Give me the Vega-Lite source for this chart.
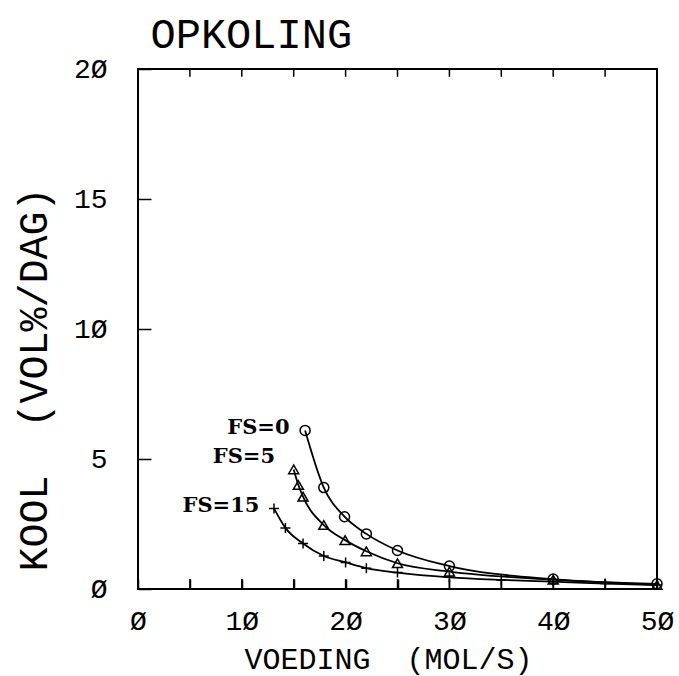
{
  "$schema": "https://vega.github.io/schema/vega-lite/v6.json",
  "width": 519,
  "height": 520,
  "autosize": "none",
  "padding": {"left": 138, "top": 69, "right": 22, "bottom": 87},
  "background": "white",
  "config": {
    "view": {"stroke": "black", "strokeWidth": 2},
    "axis": {
      "grid": false,
      "domain": false,
      "tickColor": "black",
      "tickWidth": 1.5,
      "labelColor": "black",
      "titleColor": "black",
      "labelFont": "Liberation Mono",
      "titleFont": "Liberation Mono",
      "titleFontWeight": "normal",
      "labelFlush": false,
      "labelOverlap": false
    }
  },
  "datasets": {
    "curves": [
      {"fs": "0", "x": 16.1, "y": 6.1},
      {"fs": "0", "x": 17.9, "y": 3.9},
      {"fs": "0", "x": 19.9, "y": 2.78},
      {"fs": "0", "x": 22.0, "y": 2.12},
      {"fs": "0", "x": 25.0, "y": 1.48},
      {"fs": "0", "x": 30.0, "y": 0.88},
      {"fs": "0", "x": 40.0, "y": 0.38},
      {"fs": "0", "x": 50.0, "y": 0.2},
      {"fs": "5", "x": 15.0, "y": 4.6},
      {"fs": "5", "x": 15.45, "y": 4.0},
      {"fs": "5", "x": 15.9, "y": 3.55},
      {"fs": "5", "x": 17.9, "y": 2.46},
      {"fs": "5", "x": 19.95, "y": 1.88},
      {"fs": "5", "x": 22.0, "y": 1.45},
      {"fs": "5", "x": 25.0, "y": 0.99},
      {"fs": "5", "x": 30.0, "y": 0.67},
      {"fs": "5", "x": 40.0, "y": 0.36},
      {"fs": "5", "x": 50.0, "y": 0.16},
      {"fs": "15", "x": 13.1, "y": 3.1},
      {"fs": "15", "x": 14.2, "y": 2.35},
      {"fs": "15", "x": 15.9, "y": 1.75},
      {"fs": "15", "x": 17.9, "y": 1.27},
      {"fs": "15", "x": 20.0, "y": 1.02},
      {"fs": "15", "x": 22.0, "y": 0.8},
      {"fs": "15", "x": 25.0, "y": 0.63},
      {"fs": "15", "x": 30.0, "y": 0.45},
      {"fs": "15", "x": 35.0, "y": 0.35},
      {"fs": "15", "x": 40.0, "y": 0.28},
      {"fs": "15", "x": 45.0, "y": 0.21},
      {"fs": "15", "x": 50.0, "y": 0.15}
    ],
    "labels": [
      {"label": "FS=0", "x": 14.6, "y": 6.2},
      {"label": "FS=5", "x": 13.2, "y": 5.08},
      {"label": "FS=15", "x": 11.7, "y": 3.2}
    ],
    "frameticks": [
      {"x": 5}, {"x": 10}, {"x": 15}, {"x": 20}, {"x": 25},
      {"x": 30}, {"x": 35}, {"x": 40}, {"x": 45}
    ]
  },
  "layer": [
    {
      "data": {"name": "curves"},
      "mark": {"type": "line", "color": "black", "strokeWidth": 1.8, "interpolate": "monotone"},
      "encoding": {
        "x": {
          "field": "x",
          "type": "quantitative",
          "scale": {"domain": [0, 50], "nice": false, "zero": false},
          "axis": {
            "orient": "bottom",
            "values": [0, 5, 10, 15, 20, 25, 30, 35, 40, 45, 50],
            "labelExpr": "datum.value % 10 === 0 ? replace(datum.label, '0', 'Ø') : ''",
            "tickSize": -10,
            "labelPadding": 28,
            "labelFontSize": 28,
            "title": "VOEDING \u00a0(MOL/S)",
            "titleFontSize": 30,
            "titleX": 250,
            "titleY": 79,
            "titleAlign": "center",
            "titleBaseline": "alphabetic"
          }
        },
        "y": {
          "field": "y",
          "type": "quantitative",
          "scale": {"domain": [0, 20], "nice": false, "zero": false},
          "axis": {
            "orient": "left",
            "values": [0, 5, 10, 15, 20],
            "labelExpr": "replace(datum.label, '0', 'Ø')",
            "tickSize": -13,
            "labelPadding": 44,
            "labelFontSize": 28,
            "labelBaseline": "middle",
            "title": "KOOL \u00a0(VOL%/DAG)",
            "titleFontSize": 40,
            "titleX": -104,
            "titleY": 310,
            "titleAngle": 270,
            "titleAlign": "center",
            "titleBaseline": "middle"
          }
        },
        "detail": {"field": "fs", "type": "nominal"}
      }
    },
    {
      "data": {"name": "curves"},
      "mark": {"type": "point", "filled": false, "color": "black", "strokeWidth": 1.5, "size": 100, "opacity": 1},
      "encoding": {
        "x": {"field": "x", "type": "quantitative", "axis": null},
        "y": {"field": "y", "type": "quantitative", "axis": null},
        "shape": {
          "field": "fs",
          "type": "nominal",
          "scale": {"domain": ["0", "5", "15"], "range": ["circle", "triangle-up", "M-1,0L1,0M0,-1L0,1"]},
          "legend": null
        }
      }
    },
    {
      "data": {"name": "labels"},
      "mark": {"type": "text", "align": "right", "baseline": "middle", "font": "DejaVu Serif", "fontWeight": "bold", "fontSize": 21, "color": "black"},
      "encoding": {
        "x": {"field": "x", "type": "quantitative", "axis": null},
        "y": {"field": "y", "type": "quantitative", "axis": null},
        "text": {"field": "label", "type": "nominal"}
      }
    },
    {
      "data": {"name": "frameticks"},
      "mark": {"type": "rule", "color": "black", "strokeWidth": 1.5},
      "encoding": {
        "x": {"field": "x", "type": "quantitative", "axis": null},
        "y": {"datum": 0, "type": "quantitative", "axis": null},
        "y2": {"datum": 0.38}
      }
    },
    {
      "data": {"name": "frameticks"},
      "mark": {"type": "rule", "color": "black", "strokeWidth": 1.5},
      "encoding": {
        "x": {
          "field": "x",
          "type": "quantitative",
          "axis": {
            "orient": "top",
            "ticks": false,
            "labels": false,
            "title": "OPKOLING",
            "titleFontSize": 42,
            "titleX": 12,
            "titleY": -22,
            "titleAlign": "left",
            "titleBaseline": "alphabetic"
          }
        },
        "y": {"datum": 20, "type": "quantitative", "axis": null},
        "y2": {"datum": 19.7}
      }
    }
  ],
  "resolve": {"axis": {"x": "independent", "y": "independent"}}
}
